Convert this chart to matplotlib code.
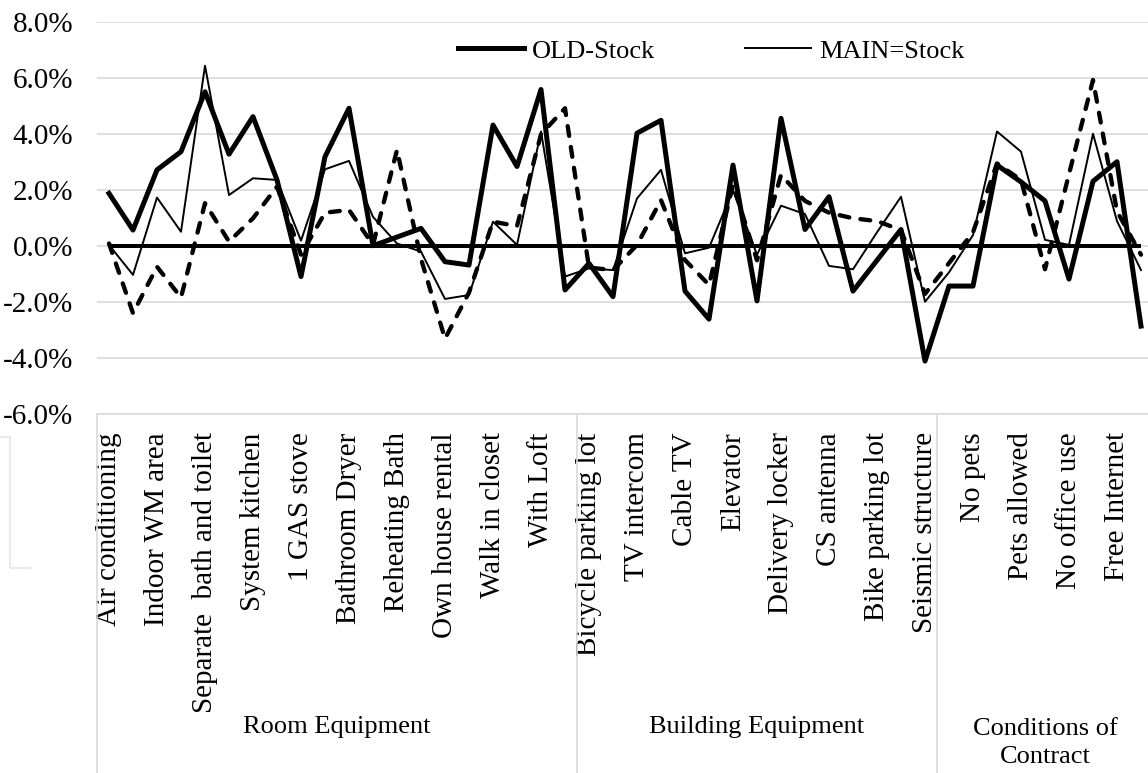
"""
Variación de precios por atributo: OLD-Stock vs MAIN=Stock.
"""

import numpy as np
import matplotlib
matplotlib.use('Agg')
import matplotlib.pyplot as plt
from matplotlib.lines import Line2D
from matplotlib.transforms import blended_transform_factory
from matplotlib.ticker import FuncFormatter

plt.rcParams['font.family'] = ['Liberation Serif', 'DejaVu Serif']

# Etiquetas (una de cada dos, como en el original)
item_labels = [
    'Air conditioning', '', 'Indoor WM area', '', 'Separate  bath and toilet', '',
    'System kitchen', '', '1 GAS stove', '', 'Bathroom Dryer', '',
    'Reheating Bath', '', 'Own house rental', '', 'Walk in closet', '',
    'With Loft', '',
    'Bicycle parking lot', '', 'TV intercom', '', 'Cable TV', '',
    'Elevator', '', 'Delivery locker', '', 'CS antenna', '',
    'Bike parking lot', '', 'Seismic structure',
    '', 'No pets', '', 'Pets allowed', '', 'No office use', '',
    'Free Internet', '',
]
group_names = ['Room Equipment', 'Building Equipment', 'Conditions of\nContract']
group_sizes = [20, 15, 9]

# Valores en %
old_stock = [
    1.89, 0.58, 2.73, 3.38, 5.52, 3.29, 4.63, 2.37, -1.08, 3.20,
    4.93, 0.02, 0.33, 0.64, -0.55, -0.67, 4.33, 2.85, 5.60, -1.56,
    -0.61, -1.80, 4.04, 4.50, -1.60, -2.60, 2.90, -1.95, 4.57, 0.60,
    1.77, -1.60, -0.50, 0.60, -4.10, -1.42, -1.42, 2.90, 2.30, 1.62,
    -1.17, 2.32, 3.02, -2.85,
]
main_stock = [
    0.05, -1.02, 1.74, 0.52, 6.45, 1.83, 2.43, 2.37, 0.20, 2.75,
    3.05, 1.05, 0.10, -0.19, -1.88, -1.74, 0.88, 0.05, 4.10, -1.08,
    -0.79, -0.85, 1.71, 2.73, -0.25, -0.05, 2.00, -0.30, 1.45, 1.15,
    -0.70, -0.82, 0.50, 1.77, -1.98, -0.93, 0.40, 4.10, 3.38, 0.23,
    0.05, 4.02, 0.90, -0.85,
]
third_series = [
    0.10, -2.39, -0.73, -1.83, 1.54, 0.17, 1.00, 2.13, -0.30, 1.20,
    1.30, 0.05, 3.44, -0.45, -3.30, -1.65, 0.88, 0.72, 4.00, 4.93,
    -0.76, -0.85, 0.05, 1.65, -0.49, -1.38, 2.20, -0.50, 2.55, 1.62,
    1.20, 1.00, 0.90, 0.58, -1.70, -0.60, 0.50, 2.96, 2.37, -0.82,
    2.58, 5.94, 1.25, -0.30,
]

W, H = 1148, 773
fig = plt.figure(figsize=(W / 100, H / 100), dpi=100)

# Área del gráfico en píxeles de la imagen
left_px, right_px, top_px, bottom_px = 97, 1148, 22.3, 414.3
ax = fig.add_axes([left_px / W, 1 - bottom_px / H,
                   (right_px - left_px) / W, (bottom_px - top_px) / H])

x = np.arange(len(old_stock))
step = 24.0
ax.set_xlim(-0.5, -0.5 + (right_px - left_px) / step)
ax.set_ylim(-6, 8)

grid_col = '#d9d9d9'
ax.set_yticks(np.arange(-6, 9, 2))
ax.yaxis.set_major_formatter(FuncFormatter(lambda v, p: f'{v:.1f}%'))
ax.yaxis.grid(True, color=grid_col, lw=1.2)
ax.set_axisbelow(True)
for s in ['top', 'right', 'left']:
    ax.spines[s].set_visible(False)
ax.spines['bottom'].set_color(grid_col)
ax.spines['bottom'].set_linewidth(1.2)
ax.tick_params(axis='y', length=0, pad=17, labelsize=21)

# Series
ax.plot(x, np.zeros(len(x)), color='black', lw=2.9, solid_capstyle='butt', zorder=2)
ax.plot(x, third_series, color='black', lw=3.1, dashes=(2.3, 2.6),
        dash_capstyle='round', zorder=3)
ax.plot(x, main_stock, color='black', lw=1.4, label='MAIN=Stock', zorder=4)
ax.plot(x, old_stock, color='black', lw=3.6, label='OLD-Stock', zorder=5)

# Eje de categorías
ax.set_xticks(x)
ax.set_xticklabels(item_labels, rotation=90, va='top', ha='center', fontsize=21)
ax.tick_params(axis='x', length=0, pad=13)

trans = blended_transform_factory(ax.transData, fig.transFigure)
bounds = np.concatenate([[0], np.cumsum(group_sizes)]) - 0.5
for b in bounds[:-1]:
    fig.add_artist(Line2D([b, b], [0, 1 - bottom_px / H], transform=trans,
                          color=grid_col, lw=1.2))
for name, a, b in zip(group_names, bounds[:-1], bounds[1:]):
    ypos = 1 - 727 / H if '\n' not in name else 1 - 743 / H
    ax.text((a + b) / 2, ypos, name, transform=trans, ha='center', va='center',
            fontsize=19, linespacing=1.3)

# Leyenda
h, l = ax.get_legend_handles_labels()
fig.legend(h[::-1], l[::-1], loc='center left', bbox_to_anchor=(458 / W, 1 - 51 / H),
           ncol=2, frameon=False, fontsize=19, handlelength=2.5,
           handletextpad=0.3, columnspacing=3.4, borderpad=0, borderaxespad=0)

# Marco gris tenue a la izquierda
fig.add_artist(Line2D([0, 10 / W, 10 / W, 30 / W],
                      [1 - 437 / H, 1 - 437 / H, 1 - 568 / H, 1 - 568 / H],
                      transform=fig.transFigure, color='#e6e6e6', lw=1.2))

fig.savefig('out.png', dpi=100)
